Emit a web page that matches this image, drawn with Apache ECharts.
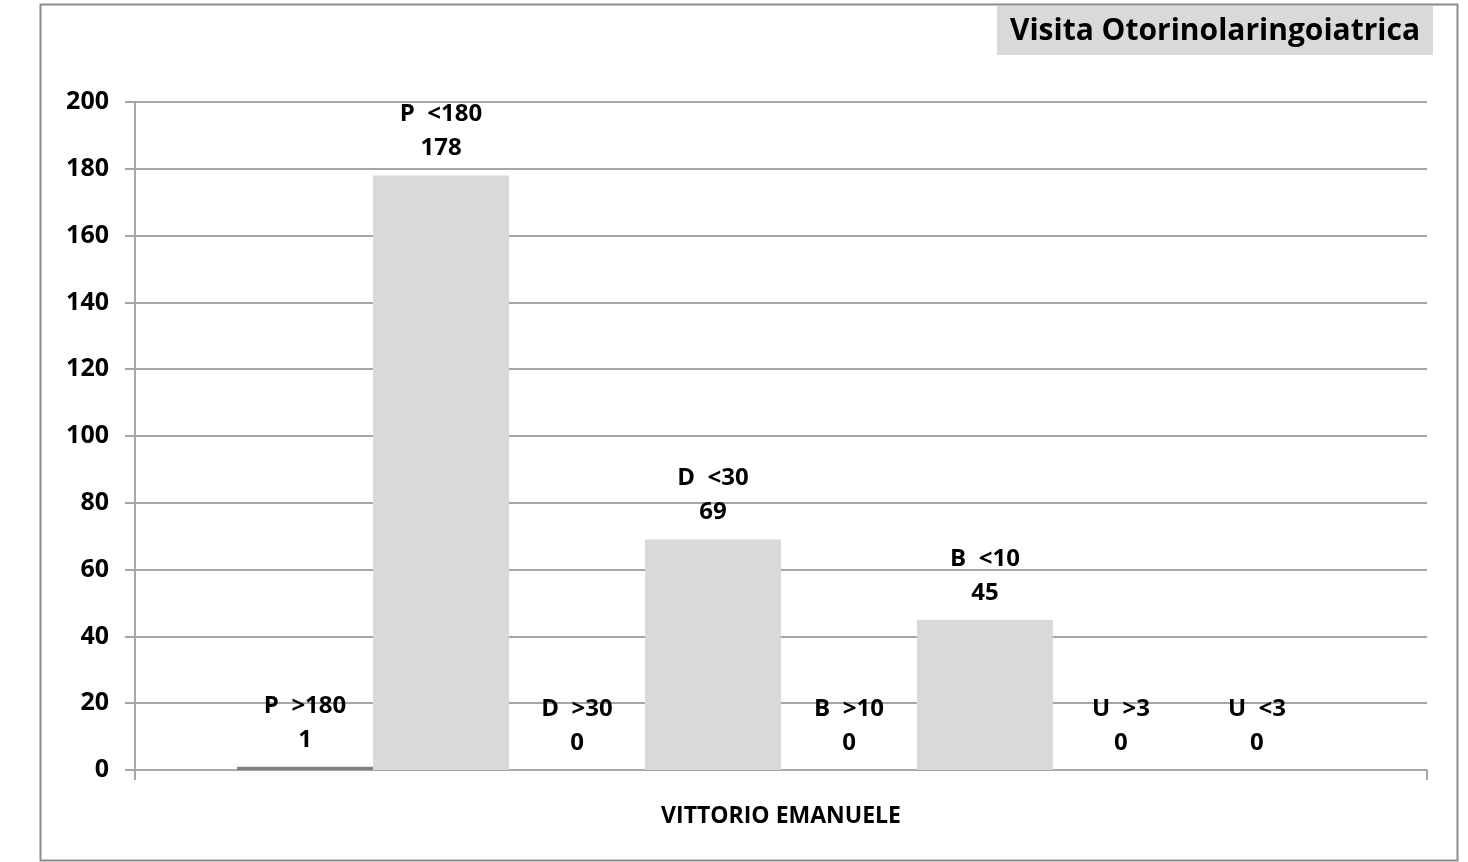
<!DOCTYPE html>
<html><head><meta charset="utf-8">
<script src="https://cdn.jsdelivr.net/npm/echarts@6/dist/echarts.min.js"></script>
<style>html,body{margin:0;padding:0;background:#fff}#c{width:1468px;height:862px}</style>
</head><body><div id="c"></div>
<script>
const categories = ['VITTORIO EMANUELE'];
const seriesNames = ['P  >180', 'P  <180', 'D  >30', 'D  <30', 'B  >10', 'B  <10', 'U  >3', 'U  <3'];
const seriesValues = [1, 178, 0, 69, 0, 45, 0, 0];
const seriesColors = ['#808080', '#d9d9d9', '#808080', '#d9d9d9', '#808080', '#d9d9d9', '#808080', '#d9d9d9'];
const yTicks = [0, 20, 40, 60, 80, 100, 120, 140, 160, 180, 200];
const titleText = 'Visita Otorinolaringoiatrica';

const FONT = '"Open Sans", Lato, sans-serif';
const chart = echarts.init(document.getElementById('c'), null, {renderer: 'canvas'});
const series = seriesNames.map((n, i) => ({
  name: n, type: 'bar', data: [seriesValues[i]],
  barGap: '0%', barCategoryGap: '15.8%',
  itemStyle: {color: seriesColors[i]},
  label: {
    show: true, position: 'top', distance: 10,
    formatter: p => p.seriesName + '\n' + p.value,
    color: '#000', fontFamily: FONT, fontWeight: 'bold', fontSize: 24, lineHeight: 34
  }
}));
chart.setOption({
  animation: false,
  backgroundColor: '#fff',
  grid: {left: 135, right: 41, top: 102, bottom: 92, containLabel: false},
  xAxis: {
    type: 'category', data: categories,
    axisLine: {lineStyle: {color: '#a6a6a6', width: 2}},
    axisTick: {show: true, length: 10, lineStyle: {color: '#a6a6a6', width: 2}},
    axisLabel: {color: '#000', fontFamily: FONT, fontWeight: 'bold', fontSize: 23, margin: 35}
  },
  yAxis: {
    type: 'value', min: yTicks[0], max: yTicks[yTicks.length - 1], interval: yTicks[1] - yTicks[0],
    axisLine: {show: true, lineStyle: {color: '#a6a6a6', width: 2}},
    axisTick: {show: true, length: 10, lineStyle: {color: '#a6a6a6', width: 2}},
    splitLine: {show: true, lineStyle: {color: '#a6a6a6', width: 2}},
    axisLabel: {color: '#000', fontFamily: FONT, fontWeight: 'bold', fontSize: 25, margin: 26}
  },
  series: series,
  graphic: [
    {type: 'rect', left: 38, top: 2, shape: {width: 1417, height: 856},
     style: {fill: 'none', stroke: '#8c8c8c', lineWidth: 2}, z: 100},
    {type: 'rect', left: 997, top: 6, shape: {width: 436, height: 49},
     style: {fill: '#d9d9d9'}, z: 90},
    {type: 'text', x: 1215, y: 31, z: 95,
     style: {text: titleText, fill: '#000', font: 'bold 30px ' + FONT, textAlign: 'center', textVerticalAlign: 'middle'}}
  ]
});
</script></body></html>
